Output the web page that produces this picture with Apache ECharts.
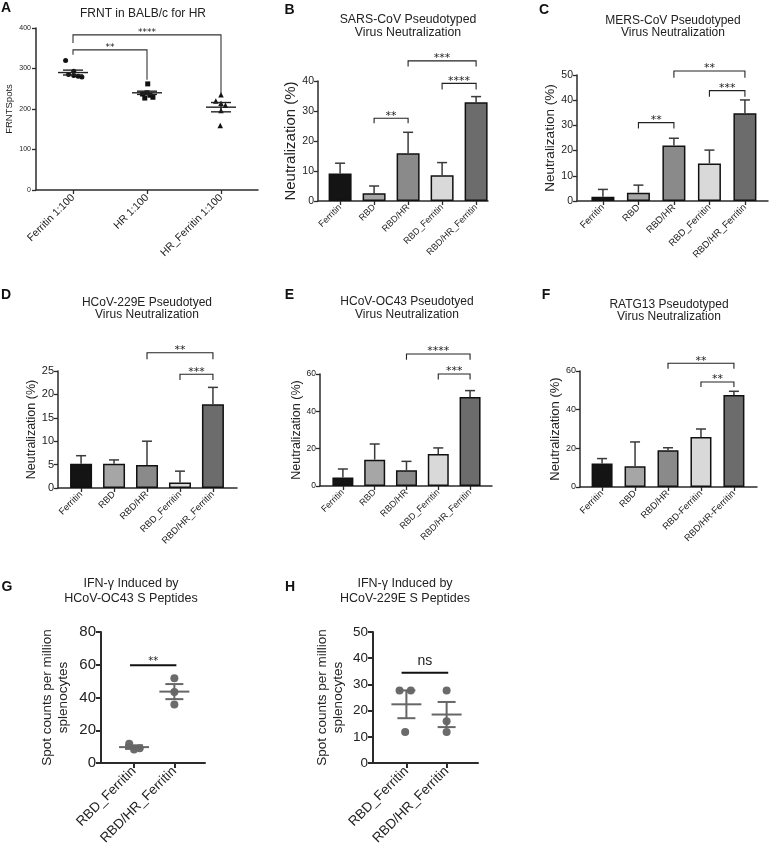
<!DOCTYPE html>
<html><head><meta charset="utf-8">
<script src="https://cdn.jsdelivr.net/npm/echarts@6/dist/echarts.min.js"></script>
<style>html,body{margin:0;padding:0;background:#fff}#c{width:770px;height:860px}</style>
</head><body><div id="c"></div>
<script>
// ================= DATA =================
// Panel A
const catsA = ['Ferritin 1:100', 'HR 1:100', 'HR_Ferritin 1:100'];
const aFerritin = [320, 293, 285, 283, 281, 279];
const aFerritinJitter = [-0.10, 0.01, -0.06, 0.01, 0.07, 0.12];
const aHR = [262, 240, 237, 234, 229, 227];
const aHRJitter = [0.01, 0.0, -0.06, 0.04, 0.08, -0.03];
const aHRFerritin = [235, 220, 214, 209, 196, 159];
const aHRFerritinJitter = [0.0, -0.07, 0.0, 0.06, 0.0, -0.01];
const aMean = [290, 240, 204.5];
const aSem = [6, 4, 11.5];
const aSig = [[0, 1, 346, 334, 272, '**'], [0, 2, 383, 363, 236, '****']];

// Bar panels B–F
const catsNeut = ['Ferritin', 'RBD', 'RBD/HR', 'RBD_Ferritin', 'RBD/HR_Ferritin'];
const catsF = ['Ferritin', 'RBD', 'RBD/HR', 'RBD-Ferritin', 'RBD/HR-Ferritin'];
const bMean = [9.2, 2.6, 15.9, 8.6, 32.9];
const bErr = [12.6, 5.0, 22.9, 12.8, 34.8];
const bSig = [[1, 2, 27.6, 25.9, 25.9, '**'], [2, 4, 46.7, 44.8, 44.8, '***'], [3, 4, 39.2, 37.2, 37.2, '****']];
const cMean = [1.7, 3.3, 22.0, 14.9, 34.8];
const cErr = [4.6, 6.3, 24.9, 20.2, 40.1];
const cSig = [[1, 2, 31.1, 28.8, 28.8, '**'], [2, 4, 51.6, 48.9, 48.9, '**'], [3, 4, 43.8, 41.4, 41.4, '***']];
const dMean = [5.2, 5.2, 4.9, 1.2, 17.9];
const dErr = [6.9, 6.0, 10.0, 3.6, 21.5];
const dSig = [[2, 4, 28.9, 27.5, 27.5, '**'], [3, 4, 24.3, 23.1, 23.1, '***']];
const eMean = [4.6, 14.1, 8.4, 17.1, 47.7];
const eErr = [9.1, 22.5, 13.2, 20.4, 51.1];
const eSig = [[2, 4, 70.7, 67.7, 67.7, '****'], [3, 4, 60.0, 57.0, 57.0, '***']];
const fMean = [12.1, 10.7, 19.0, 25.9, 47.6];
const fErr = [14.7, 23.3, 20.3, 30.0, 49.5];
const fSig = [[2, 4, 64.0, 61.2, 61.2, '**'], [3, 4, 54.3, 51.7, 51.7, '**']];

// Panels G, H
const catsGH = ['RBD_Ferritin', 'RBD/HR_Ferritin'];
const gRBDF = [11.8, 8.2, 9.0];
const gRBDFJitter = [-0.12, 0.0, 0.14];
const gRBDHRF = [51.7, 43.4, 35.8];
const gRBDHRFJitter = [0, 0, 0];
const gMean = [9.7, 43.6];
const gSem = [1.1, 4.6];
const gSig = [[-0.1, 1.05, 59.7, 59.7, 59.7, '**']];
const hRBDF = [27.7, 27.7, 11.8];
const hRBDFJitter = [-0.17, 0.11, -0.03];
const hRBDHRF = [27.7, 15.9, 11.8];
const hRBDHRFJitter = [0, 0, 0];
const hMean = [22.4, 18.5];
const hSem = [5.3, 4.8];
const hSig = [[-0.12, 1.04, 34.4, 34.4, 34.4, 'ns']];

// ================= STYLE / LAYOUT =================
const FONT = '"Liberation Sans", Arial, sans-serif';
const STARFONT = '"DejaVu Sans", sans-serif';
const barColors = ['#141414', '#a6a6a6', '#8a8a8a', '#d9d9d9', '#6c6c6c'];
const AX = '#2b2b2b';

const chart = echarts.init(document.getElementById('c'), null, {renderer: 'canvas', width: 770, height: 860});
const grids = [], xAxes = [], yAxes = [], series = [], graphics = [];

function addAxes(g, xo, yo) {
  const gi = grids.length;
  grids.push(Object.assign({containLabel: false, outerBoundsMode: 'none'}, g));
  const ticks = xo.cats.map((_, i) => i);
  xAxes.push({
    type: 'value', gridIndex: gi, min: xo.min, max: xo.max,
    axisLine: {show: true, onZero: false, lineStyle: {color: AX, width: xo.lw || 1.5}},
    axisTick: {show: true, length: xo.tl || 4, customValues: ticks, lineStyle: {color: AX, width: xo.lw || 1.3}},
    axisLabel: {show: true, customValues: ticks, rotate: 45, fontSize: xo.fs, fontFamily: FONT, color: '#222',
      margin: xo.margin || 5, formatter: v => xo.cats[Math.round(v)] || ''},
    splitLine: {show: false}
  });
  yAxes.push({
    type: 'value', gridIndex: gi, min: 0, max: yo.max, interval: yo.interval,
    axisLine: {show: true, onZero: false, lineStyle: {color: AX, width: yo.lw || 1.5}},
    axisTick: {show: true, length: yo.tl || 4, lineStyle: {color: AX, width: yo.lw || 1.3}},
    axisLabel: {fontSize: yo.fs, fontFamily: FONT, color: '#222', margin: yo.margin || 5},
    splitLine: {show: false},
    name: yo.name, nameLocation: 'middle', nameGap: yo.gap,
    nameTextStyle: {fontSize: yo.nameFs, fontFamily: FONT, color: '#222', lineHeight: yo.lh}
  });
  return gi;
}

function bracketRender(labels, font, color, lw, gap) {
  return function (params, api) {
    const x1 = api.value(0), x2 = api.value(1), yt = api.value(2), yl = api.value(3), yr = api.value(4);
    const a = api.coord([x1, yl]), b = api.coord([x1, yt]), c = api.coord([x2, yt]), d = api.coord([x2, yr]);
    return {type: 'group', children: [
      {type: 'polyline', shape: {points: [a, b, c, d]}, style: {stroke: color, lineWidth: lw, fill: null}},
      {type: 'text', style: {text: labels[params.dataIndex], x: (b[0] + c[0]) / 2, y: b[1] - gap,
        align: 'center', verticalAlign: 'bottom', font: font, fill: '#222'}}
    ]};
  };
}
function addBrackets(gi, sig, font, color, lw, gap) {
  series.push({type: 'custom', xAxisIndex: gi, yAxisIndex: gi, clip: false, silent: true,
    renderItem: bracketRender(sig.map(s => s[5]), font, color, lw, gap),
    data: sig.map(s => s.slice(0, 5)), z: 5});
}
function errRender(hw, color, lw) {
  return function (params, api) {
    const p0 = api.coord([api.value(0), api.value(1)]), p1 = api.coord([api.value(0), api.value(2)]);
    return {type: 'group', children: [
      {type: 'line', shape: {x1: p0[0], y1: p0[1], x2: p1[0], y2: p1[1]}, style: {stroke: color, lineWidth: lw}},
      {type: 'line', shape: {x1: p1[0] - hw, y1: p1[1], x2: p1[0] + hw, y2: p1[1]}, style: {stroke: color, lineWidth: lw}}
    ]};
  };
}
function meanSemRender(color, wMean, wSem, lw) {
  return function (params, api) {
    const x = api.value(0), m = api.value(1), s = api.value(2);
    const pm = api.coord([x, m]), ph = api.coord([x, m + s]), pl = api.coord([x, m - s]);
    const L = (x1, y1, x2, y2) => ({type: 'line', shape: {x1, y1, x2, y2}, style: {stroke: color, lineWidth: lw}});
    return {type: 'group', children: [
      L(pm[0] - wMean, pm[1], pm[0] + wMean, pm[1]),
      L(ph[0], ph[1], pl[0], pl[1]),
      L(ph[0] - wSem, ph[1], ph[0] + wSem, ph[1]),
      L(pl[0] - wSem, pl[1], pl[0] + wSem, pl[1])
    ]};
  };
}
function barPanel(g, xo, yo, mean, err, sig, barW) {
  const gi = addAxes(g, xo, yo);
  series.push({type: 'bar', xAxisIndex: gi, yAxisIndex: gi, barWidth: barW,
    data: mean.map((m, i) => ({value: [i, m], itemStyle: {color: barColors[i]}})),
    itemStyle: {borderColor: '#111', borderWidth: 1.5}, emphasis: {disabled: true}, z: 2});
  series.push({type: 'custom', xAxisIndex: gi, yAxisIndex: gi, clip: false, silent: true,
    renderItem: errRender(5, '#3a3a3a', 1.5), data: mean.map((m, i) => [i, m, err[i]]), z: 3});
  addBrackets(gi, sig, '11px ' + STARFONT, '#222', 1.1, -3);
}
function dots(gi, vals, jit, cat, symbol, size, color) {
  series.push({type: 'scatter', xAxisIndex: gi, yAxisIndex: gi, symbol, symbolSize: size,
    itemStyle: {color, opacity: 1}, emphasis: {disabled: true},
    data: vals.map((v, i) => [cat + jit[i], v]), z: 3});
}

// ---- Panel A ----
let gi = addAxes({left: 36, top: 28, width: 222, height: 162},
  {min: -0.5, max: 2.5, cats: catsA, fs: 10.5, margin: 6},
  {max: 400, interval: 100, fs: 7, name: 'FRNTSpots', nameFs: 9.5, gap: 22, margin: 5});
dots(gi, aFerritin, aFerritinJitter, 0, 'circle', 5, '#111');
dots(gi, aHR, aHRJitter, 1, 'rect', 5, '#111');
dots(gi, aHRFerritin, aHRFerritinJitter, 2, 'triangle', 5.5, '#111');
series.push({type: 'custom', xAxisIndex: gi, yAxisIndex: gi, clip: false, silent: true,
  renderItem: meanSemRender('#222', 15, 10, 1.4), data: aMean.map((m, i) => [i, m, aSem[i]]), z: 4});
addBrackets(gi, aSig, '9px ' + STARFONT, '#333', 1.1, -2);

// ---- Panels B–F ----
barPanel({left: 318, top: 81, width: 170, height: 120},
  {min: -0.65, max: 4.35, cats: catsNeut, fs: 9, margin: 5},
  {max: 40, interval: 10, fs: 10.5, name: 'Neutralization (%)', nameFs: 15, gap: 16, margin: 4},
  bMean, bErr, bSig, 23);
barPanel({left: 577, top: 75, width: 191, height: 126},
  {min: -0.73, max: 4.65, cats: catsNeut, fs: 9.5, margin: 5},
  {max: 50, interval: 10, fs: 10.5, name: 'Neutralization (%)', nameFs: 13.5, gap: 15, margin: 4},
  cMean, cErr, cSig, 23);
barPanel({left: 58, top: 371, width: 179, height: 117},
  {min: -0.7, max: 4.73, cats: catsNeut, fs: 9.3, margin: 5},
  {max: 25, interval: 5, fs: 11, name: 'Neutralization (%)', nameFs: 12.5, gap: 19, margin: 4},
  dMean, dErr, dSig, 22);
barPanel({left: 320, top: 374, width: 172, height: 112},
  {min: -0.72, max: 4.69, cats: catsNeut, fs: 9, margin: 5},
  {max: 60, interval: 20, fs: 8.5, name: 'Neutralization (%)', nameFs: 12.5, gap: 15, margin: 4},
  eMean, eErr, eSig, 21);
barPanel({left: 580, top: 371, width: 177, height: 116},
  {min: -0.67, max: 4.7, cats: catsF, fs: 9.3, margin: 5},
  {max: 60, interval: 20, fs: 9, name: 'Neutralization (%)', nameFs: 13, gap: 16, margin: 4},
  fMean, fErr, fSig, 21);

// ---- Panel G ----
gi = addAxes({left: 101, top: 632, width: 104, height: 131},
  {min: -0.82, max: 1.76, cats: catsGH, fs: 13.5, margin: 6, lw: 2, tl: 5},
  {max: 80, interval: 20, fs: 15, name: 'Spot counts per million\nsplenocytes', nameFs: 13.5, lh: 16, gap: 30, margin: 5, lw: 2, tl: 5});
dots(gi, gRBDF, gRBDFJitter, 0, 'circle', 8, '#6b6b6b');
dots(gi, gRBDHRF, gRBDHRFJitter, 1, 'circle', 8, '#6b6b6b');
series.push({type: 'custom', xAxisIndex: gi, yAxisIndex: gi, clip: false, silent: true,
  renderItem: meanSemRender('#666', 15, 9, 2), data: gMean.map((m, i) => [i, m, gSem[i]]), z: 4});
addBrackets(gi, gSig, '10px ' + STARFONT, '#111', 2, -1);

// ---- Panel H ----
gi = addAxes({left: 373, top: 632, width: 105, height: 131},
  {min: -0.83, max: 1.78, cats: catsGH, fs: 13.5, margin: 6, lw: 2, tl: 5},
  {max: 50, interval: 10, fs: 13.5, name: 'Spot counts per million\nsplenocytes', nameFs: 13.5, lh: 16, gap: 27, margin: 5, lw: 2, tl: 5});
dots(gi, hRBDF, hRBDFJitter, 0, 'circle', 8, '#6b6b6b');
dots(gi, hRBDHRF, hRBDHRFJitter, 1, 'circle', 8, '#6b6b6b');
series.push({type: 'custom', xAxisIndex: gi, yAxisIndex: gi, clip: false, silent: true,
  renderItem: meanSemRender('#666', 15, 9, 2), data: hMean.map((m, i) => [i, m, hSem[i]]), z: 4});
addBrackets(gi, hSig, '14px ' + FONT, '#111', 2, 5);

// ---- Titles and panel letters ----
const titles = [
  ['FRNT in BALB/c for HR', 143, 14, 12, 14],
  ['SARS-CoV Pseudotyped\nVirus Neutralization', 408, 26, 12.3, 12.5],
  ['MERS-CoV Pseudotyped\nVirus Neutralization', 673, 26.5, 12, 12.5],
  ['HCoV-229E Pseudotyed\nVirus Neutralization', 147, 308.5, 12, 12.5],
  ['HCoV-OC43 Pseudotyed\nVirus Neutralization', 407, 308, 12, 12.5],
  ['RATG13 Pseudotyped\nVirus Neutralization', 669, 310.5, 12, 12.5],
  ['IFN-γ Induced by\nHCoV-OC43 S Peptides', 131, 591.5, 12.5, 15],
  ['IFN-γ Induced by\nHCoV-229E S Peptides', 405, 591.5, 12.5, 15]
];
titles.forEach(t => graphics.push({type: 'text', x: t[1], y: t[2], silent: true,
  style: {text: t[0], align: 'center', verticalAlign: 'middle', fontSize: t[3], fontFamily: FONT, lineHeight: t[4], fill: '#222'}}));
const letters = [['A', 6, 8], ['B', 289.5, 10], ['C', 544, 10], ['D', 6, 295], ['E', 289.5, 295], ['F', 546, 295], ['G', 7, 587], ['H', 290, 587]];
letters.forEach(t => graphics.push({type: 'text', x: t[1], y: t[2], silent: true,
  style: {text: t[0], align: 'center', verticalAlign: 'middle', fontSize: 14, fontWeight: 'bold', fontFamily: FONT, fill: '#111'}}));

chart.setOption({
  animation: false,
  backgroundColor: '#fff',
  grid: grids, xAxis: xAxes, yAxis: yAxes, series: series,
  graphic: {elements: graphics}
});
</script>
</body></html>
